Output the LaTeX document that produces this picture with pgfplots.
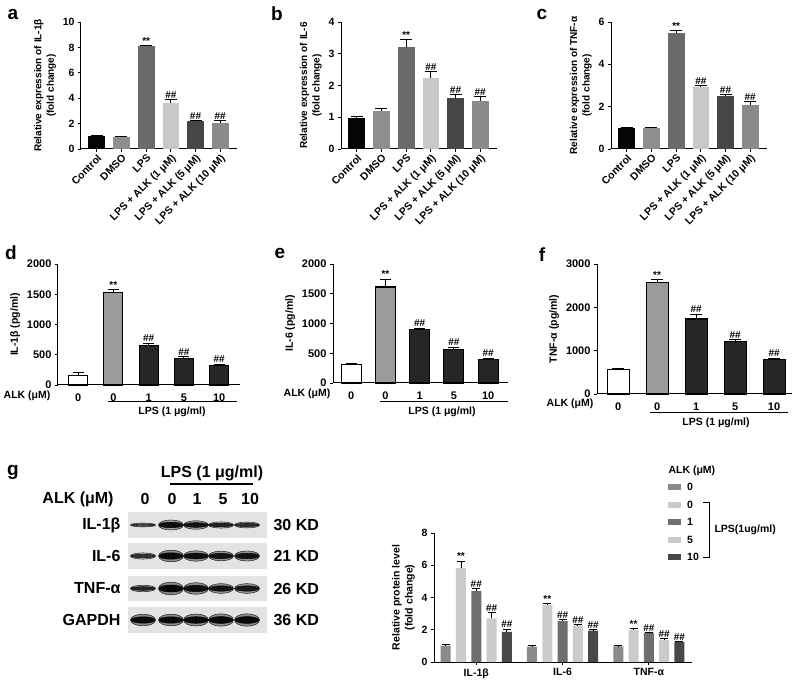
\documentclass[border=0pt]{standalone}
\usepackage{fontspec}
\setmainfont{Liberation Sans}
\usepackage{pgfplots}
\usepackage{pgfplotstable}
\pgfplotsset{compat=1.18}

\newcommand{\fs}[1]{\fontsize{#1}{#1}\selectfont\bfseries}
\newcommand{\fsz}[2]{\fontsize{#1}{#2}\selectfont\bfseries}

% greys of panels a-c
\definecolor{gA}{HTML}{050505}
\definecolor{gB}{HTML}{8E8E8E}
\definecolor{gC}{HTML}{6A6A6A}
\definecolor{gD}{HTML}{C8C8C8}
\definecolor{gE}{HTML}{464646}
\definecolor{gF}{HTML}{8A8A8A}
% panels d-f
\definecolor{mid}{HTML}{9B9B9B}
\definecolor{dk}{HTML}{262626}
% panel g
\definecolor{g0}{HTML}{8A8A8A}
\definecolor{g1}{HTML}{CBCBCB}
\definecolor{g2}{HTML}{6E6E6E}
\definecolor{g3}{HTML}{CBCBCB}
\definecolor{g4}{HTML}{484848}
\definecolor{blot}{HTML}{E3E3E3}

\pgfplotstableread{
g y0 e0 y1 e1 y2 e2 y3 e3 y4 e4
0 1.02 0.04 5.82 0.44 4.40 0.17 2.70 0.35 1.87 0.17
1 0.95 0.05 3.52 0.10 2.53 0.10 2.26 0.08 1.95 0.08
2 0.97 0.05 1.99 0.08 1.79 0.05 1.35 0.10 1.24 0.05
}\gtab

% western blot bands: lane x, row y, height factor, core and halo darkness (%)
\pgfplotstableread{
x y h o q
143 158 0.10 70 28
171 158 0.26 95 40
196 158 0.22 92 38
221 158 0.16 88 34
247 158 0.15 82 30
143 127 0.16 80 32
171 127 0.30 96 45
196 127 0.27 94 43
221 127 0.25 93 42
247 127 0.26 93 42
143 94.5 0.17 85 34
171 94.5 0.33 97 46
196 94.5 0.30 95 45
221 94.5 0.25 92 42
247 94.5 0.25 90 40
143 63 0.30 96 45
171 63 0.30 96 45
196 63 0.31 96 45
221 63 0.32 96 45
247 63 0.32 96 45
}\bands

\pgfplotsset{
  panel/.style={
    scale only axis, clip=false,
    axis lines*=left,
    axis line style={line width=1pt},
    every tick/.style={black, line width=0.9pt},
    tick align=outside,
    major tick length=3pt,
    ymin=0, enlarge y limits=false,
    /pgf/number format/assume math mode=true,
    /pgf/number format/1000 sep={},
    ticklabel style={font=\fs{10.5}},
    ylabel style={font=\fsz{10}{12.5}, align=center},
  },
  fold/.style={panel, xmin=-0.64, xmax=5.68, xtick={0,...,5},
    xticklabels={Control, DMSO, LPS, LPS + ALK (1 μM), LPS + ALK (5 μM), LPS + ALK (10 μM)},
    x tick label style={rotate=45, anchor=north east, inner sep=1pt}},
  elisa/.style={panel, xtick={0,...,4}, xticklabels={0,0,1,5,10},
    xtick style={draw=none}, x tick label style={font=\fs{11}, yshift=-2pt},
    y tick label style={font=\fs{11}}, ylabel style={font=\fs{10.5}}},
  barst/.style={ybar, bar shift=0pt, bar width=\bw, draw=\bd, line width=\bl,
    error bars/y dir=plus, error bars/y explicit,
    error bars/error bar style={line width=0.9pt, black},
    error bars/error mark options={rotate=90, mark size=\cap, line width=0.9pt, black},
    every node near coord/.append style={font=\fs{10}, anchor=south, inner sep=1pt}},
}

% one bar, with and without a significance mark
\newcommand{\bb}[4]{\addplot[barst, fill=#1] coordinates {(#2,#3) +- (0,#4)};}
\newcommand{\bs}[5]{\addplot[barst, fill=#1, nodes near coords={#5},
  every node near coord/.append style={yshift={#4*\ku*1pt}}] coordinates {(#2,#3) +- (0,#4)};}

\begin{document}
\begin{tikzpicture}[x=1pt,y=1pt]
\useasboundingbox (0,0) rectangle (800,683);
\fill[white] (0,0) rectangle (800,683);

%---------------- a
\def\bw{16.7pt}\def\bd{none}\def\bl{0pt}\def\cap{6pt}\def\ku{12.7}
\begin{axis}[fold, at={(81pt,534pt)}, anchor=south west, width=156pt, height=127pt,
  ymax=10, ytick={0,2,...,10}, ylabel={Relative expression of IL-1β\\(fold change)}]
\bb{gA}{0}{1.02}{0.04}
\bb{gB}{1}{0.94}{0.05}
\bs{gC}{2}{8.09}{0.06}{**}
\bs{gD}{3}{3.66}{0.22}{\#\#}
\bs{gE}{4}{2.17}{0.10}{\#\#}
\bs{gF}{5}{2.02}{0.20}{\#\#}
\end{axis}
\node[font=\fs{19}] at (13,669) {a};

%---------------- b
\def\ku{31.75}
\begin{axis}[fold, at={(341pt,534pt)}, anchor=south west, width=156pt, height=127pt,
  ymax=4, ytick={0,1,...,4}, ylabel={Relative expression of IL-6\\(fold change)}]
\bb{gA}{0}{0.99}{0.03}
\bb{gB}{1}{1.20}{0.07}
\bs{gC}{2}{3.21}{0.23}{**}
\bs{gD}{3}{2.25}{0.18}{\#\#}
\bs{gE}{4}{1.62}{0.09}{\#\#}
\bs{gF}{5}{1.52}{0.13}{\#\#}
\end{axis}
\node[font=\fs{19}] at (277,669) {b};

%---------------- c
\def\ku{21.17}
\begin{axis}[fold, at={(611pt,534pt)}, anchor=south west, width=156pt, height=127pt,
  ymax=6, ytick={0,2,...,6}, ylabel={Relative expression of TNF-α\\(fold change)}]
\bb{gA}{0}{1.00}{0.03}
\bb{gB}{1}{1.00}{0.03}
\bs{gC}{2}{5.48}{0.12}{**}
\bs{gD}{3}{2.92}{0.06}{\#\#}
\bs{gE}{4}{2.51}{0.08}{\#\#}
\bs{gF}{5}{2.10}{0.13}{\#\#}
\end{axis}
\node[font=\fs{19}] at (542,669) {c};

%---------------- d
\def\bw{19pt}\def\bd{black}\def\bl{1.1pt}\def\cap{5.5pt}\def\ku{0.0605}
\begin{axis}[elisa, at={(58pt,298pt)}, anchor=south west, width=182pt, height=121pt,
  xmin=-0.57, xmax=4.59, ymax=2000, ytick={0,500,...,2000}, ylabel={IL-1β (pg/ml)}]
\bb{white}{0}{155}{50}
\bs{mid}{1}{1536}{39}{**}
\bs{dk}{2}{652}{39}{\#\#}
\bs{dk}{3}{442}{28}{\#\#}
\bs{dk}{4}{320}{22}{\#\#}
\end{axis}
\node[font=\fs{19}] at (11,430) {d};
\node[font=\fs{10.5}] at (27,287) {ALK (μM)};
\draw[line width=1pt] (108,281) -- (237,281);
\node[font=\fs{10.5}] at (172,271) {LPS (1 μg/ml)};

%---------------- e
\def\bw{20pt}\def\ku{0.0595}
\begin{axis}[elisa, at={(333pt,300pt)}, anchor=south west, width=175pt, height=119pt,
  xmin=-0.53, xmax=4.58, ymax=2000, ytick={0,500,...,2000}, ylabel={IL-6 (pg/ml)}]
\bb{white}{0}{308}{28}
\bs{mid}{1}{1613}{134}{**}
\bs{dk}{2}{896}{22}{\#\#}
\bs{dk}{3}{560}{45}{\#\#}
\bs{dk}{4}{392}{28}{\#\#}
\end{axis}
\node[font=\fs{19}] at (280,430) {e};
\node[font=\fs{10.5}] at (307,289) {ALK (μM)};
\draw[line width=1pt] (380,281) -- (508,281);
\node[font=\fs{10.5}] at (442,271) {LPS (1 μg/ml)};

%---------------- f
\def\bw{22pt}\def\cap{6pt}\def\ku{0.04333}
\begin{axis}[elisa, at={(597pt,289pt)}, anchor=south west, width=195pt, height=130pt,
  xmin=-0.54, xmax=4.46, ymax=3000, ytick={0,1000,...,3000}, ylabel={TNF-α (pg/ml)}]
\bb{white}{0}{561}{38}
\bs{mid}{1}{2577}{62}{**}
\bs{dk}{2}{1731}{115}{\#\#}
\bs{dk}{3}{1208}{46}{\#\#}
\bs{dk}{4}{792}{38}{\#\#}
\end{axis}
\node[font=\fs{19}] at (542,428) {f};
\node[font=\fs{10.5}] at (570,279) {ALK (μM)};
\draw[line width=1pt] (650,270) -- (788,270);
\node[font=\fs{10.5}] at (716,260) {LPS (1 μg/ml)};

%---------------- g, blot
\node[font=\fs{19}] at (13,211) {g};
\node[font=\fs{16}] at (212,210) {LPS (1 μg/ml)};
\draw[line width=1.2pt] (170,199) -- (253,199);
\node[font=\fs{16}] at (78,184) {ALK (μM)};
\foreach \lx/\lt in {145/0,172/0,197/1,223/5,250/10}
  \node[font=\fs{16}] at (\lx,184) {\lt};
\foreach \ry/\rl/\rk in {158/IL-1β/30 KD,127/IL-6/21 KD,94.5/TNF-α/26 KD,63/GAPDH/36 KD}{
  \node[font=\fs{16}, anchor=east] at (124,\ry) {\rl};
  \node[font=\fs{16}, anchor=west] at (270,\ry) {\rk};
}
\begin{axis}[at={(128pt,50pt)}, anchor=south west, scale only axis, width=139pt, height=121pt,
  hide axis, xmin=128, xmax=267, ymin=50, ymax=171, clip=false]
\addplot[fill=blot, draw=none] coordinates {(128,145) (267,145) (267,171) (128,171)};
\addplot[fill=blot, draw=none] coordinates {(128,114) (267,114) (267,140) (128,140)};
\addplot[fill=blot, draw=none] coordinates {(128,82) (267,82) (267,107) (128,107)};
\addplot[fill=blot, draw=none] coordinates {(128,50) (267,50) (267,76) (128,76)};
% soft halo, then dark core of each band
\addplot[scatter, only marks, mark=*, mark size=12.5pt,
  visualization depends on={\thisrow{h} \as \bh},
  visualization depends on={\thisrow{q} \as \bq},
  scatter/use mapped color={draw=none, fill=black!\bq},
  scatter/@pre marker code/.append style={/tikz/yscale=1.55*\bh}]
  table[x=x, y=y] {\bands};
\addplot[scatter, only marks, mark=*, mark size=12pt,
  visualization depends on={\thisrow{h} \as \bh},
  visualization depends on={\thisrow{o} \as \bo},
  scatter/use mapped color={draw=none, fill=black!\bo},
  scatter/@pre marker code/.append style={/tikz/yscale=0.9*\bh}]
  table[x=x, y=y] {\bands};
\end{axis}

%---------------- g, quantification
\begin{axis}[panel, at={(434pt,21pt)}, anchor=south west, width=258pt, height=129pt,
  ymax=8, ytick={0,2,...,8}, xmin=-0.49, xmax=2.5, xtick={0,1,2},
  xticklabels={IL-1β,IL-6,TNF-α}, x tick label style={font=\fs{10.5}},
  ylabel={Relative protein level\\(fold change)}, ylabel style={font=\fsz{10.5}{13}},
  ybar=5.3pt, bar width=10pt,
  error bars/y dir=plus, error bars/y explicit,
  error bars/error bar style={line width=0.9pt, black},
  error bars/error mark options={rotate=90, mark size=4pt, line width=0.9pt, black},
  every node near coord/.append style={font=\fs{10}, anchor=south, inner sep=1pt},
  legend image code/.code={\fill[#1] (0pt,-3pt) rectangle (13pt,3pt);},
  legend style={at={(0.907,1.39)}, anchor=north west, draw=none, fill=none,
    font=\fs{10.5}, inner sep=0pt, row sep=8.5pt, column sep=5pt,
    nodes={inner sep=1pt, text height=7pt, text depth=0pt}},
  legend cell align=left]
\addplot[fill=g0, draw=none] table[x=g, y=y0, y error=e0] {\gtab};
\addplot[fill=g1, draw=none, nodes near coords={**},
  visualization depends on={\thisrow{e1} \as \err},
  every node near coord/.append style={yshift={\err*16.125pt}}]
  table[x=g, y=y1, y error=e1] {\gtab};
\addplot[fill=g2, draw=none, nodes near coords={\#\#},
  visualization depends on={\thisrow{e2} \as \err},
  every node near coord/.append style={yshift={\err*16.125pt}}]
  table[x=g, y=y2, y error=e2] {\gtab};
\addplot[fill=g3, draw=none, nodes near coords={\#\#},
  visualization depends on={\thisrow{e3} \as \err},
  every node near coord/.append style={yshift={\err*16.125pt}}]
  table[x=g, y=y3, y error=e3] {\gtab};
\addplot[fill=g4, draw=none, nodes near coords={\#\#},
  visualization depends on={\thisrow{e4} \as \err},
  every node near coord/.append style={yshift={\err*16.125pt}}]
  table[x=g, y=y4, y error=e4] {\gtab};
\legend{0,0,1,5,10}
\end{axis}
\node[font=\fs{10.5}, anchor=west] at (665,212) {ALK (μM)};
\draw[line width=1pt] (703,181) -- (709,181) -- (709,126) -- (703,126);
\node[font=\fs{10.5}, anchor=west] at (711,153) {LPS(1ug/ml)};
\end{tikzpicture}
\end{document}
